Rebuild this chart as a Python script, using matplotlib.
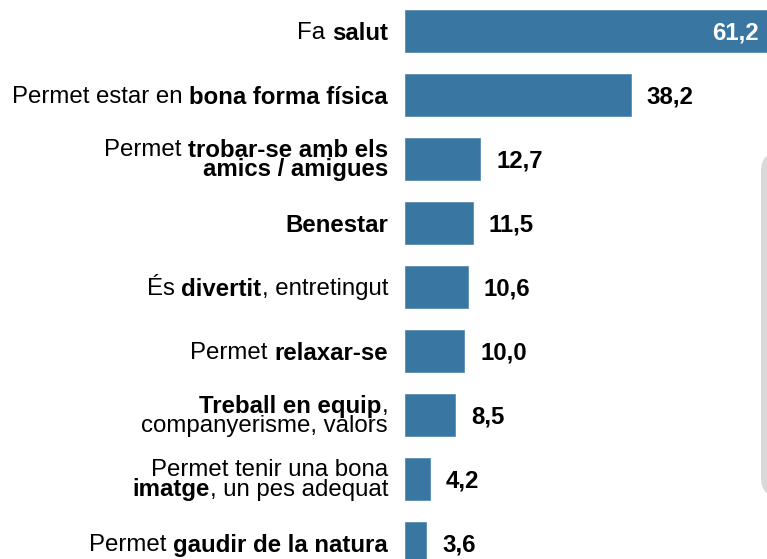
import matplotlib
matplotlib.use("Agg")
import matplotlib.pyplot as plt
from matplotlib.font_manager import FontProperties
from matplotlib.patches import FancyBboxPatch

plt.rcParams['font.family'] = ['Liberation Sans', 'DejaVu Sans']

# Labels: each line is a list of (text, bold) pieces; a third item means "no space before"
labels = [
    [[("Fa", False), ("salut", True)]],
    [[("Permet estar en", False), ("bona forma física", True)]],
    [[("Permet", False), ("trobar-se amb els", True)],
     [("amics / amigues", True)]],
    [[("Benestar", True)]],
    [[("És", False), ("divertit", True), (", entretingut", False, True)]],
    [[("Permet", False), ("relaxar-se", True)]],
    [[("Treball en equip", True), (",", False, True)],
     [("companyerisme, valors", False)]],
    [[("Permet tenir una bona", False)],
     [("imatge", True), (", un pes adequat", False, True)]],
    [[("Permet", False), ("gaudir de la natura", True)]],
]
values = [61.2, 38.2, 12.7, 11.5, 10.6, 10.0, 8.5, 4.2, 3.6]
value_text = ["61,2", "38,2", "12,7", "11,5", "10,6", "10,0", "8,5", "4,2", "3,6"]

bar_color = "#3a76a2"
fs = 17.3
dpi = 100

fig = plt.figure(figsize=(7.67, 5.59), dpi=dpi)
ax = fig.add_axes([405 / 767, 0, (767 - 405) / 767, 1])
y = list(range(len(values)))
ax.barh(y, values, height=0.66, color=bar_color, edgecolor="#5b8fb5", linewidth=0.6)
ax.set_xlim(0, 61.25)
ax.set_ylim(8.25, -0.484)
ax.axis("off")

# value labels
for i, (v, t) in enumerate(zip(values, value_text)):
    if i == 0:
        ax.annotate(t, xy=(v, i), xytext=(-8, 0), textcoords="offset pixels",
                    ha="right", va="center_baseline", color="white",
                    fontsize=fs, fontweight="bold")
    else:
        ax.annotate(t, xy=(v, i), xytext=(16, 0), textcoords="offset pixels",
                    ha="left", va="center_baseline", color="black",
                    fontsize=fs, fontweight="bold")

# category labels with mixed weights, right aligned
renderer = fig.canvas.get_renderer()
fp_reg = FontProperties(family="Liberation Sans", size=fs)
fp_bold = FontProperties(family="Liberation Sans", size=fs, weight="bold")
space = renderer.get_text_width_height_descent("a a", fp_reg, False)[0] - \
    renderer.get_text_width_height_descent("aa", fp_reg, False)[0]
line_h = 19.5
right = -17

for i, lines in enumerate(labels):
    n = len(lines)
    for j, line in enumerate(lines):
        dy = ((n - 1) / 2 - j) * line_h + (1.5 if n > 1 else 0)
        widths = []
        for piece in line:
            fp = fp_bold if piece[1] else fp_reg
            widths.append(renderer.get_text_width_height_descent(piece[0], fp, False)[0])
        gaps = [0 if (len(p) > 2 or k == 0) else space for k, p in enumerate(line)]
        total = sum(widths) + sum(gaps)
        x = right - total
        for piece, w, g in zip(line, widths, gaps):
            x += g
            ax.annotate(piece[0], xy=(0, i), xycoords=("axes fraction", "data"),
                        xytext=(x, dy), textcoords="offset pixels",
                        ha="left", va="center_baseline", fontsize=fs,
                        fontweight="bold" if piece[1] else "normal",
                        annotation_clip=False)
            x += w

# partially visible side box
box = FancyBboxPatch((761 / 767, 1 - 497 / 559), 0.2, (497 - 152) / 559,
                     boxstyle="round,pad=0,rounding_size=0.025",
                     transform=fig.transFigure, facecolor="#d9d9d9",
                     edgecolor="none", mutation_aspect=767 / 559)
fig.patches.append(box)

fig.savefig("out.png", dpi=dpi)
